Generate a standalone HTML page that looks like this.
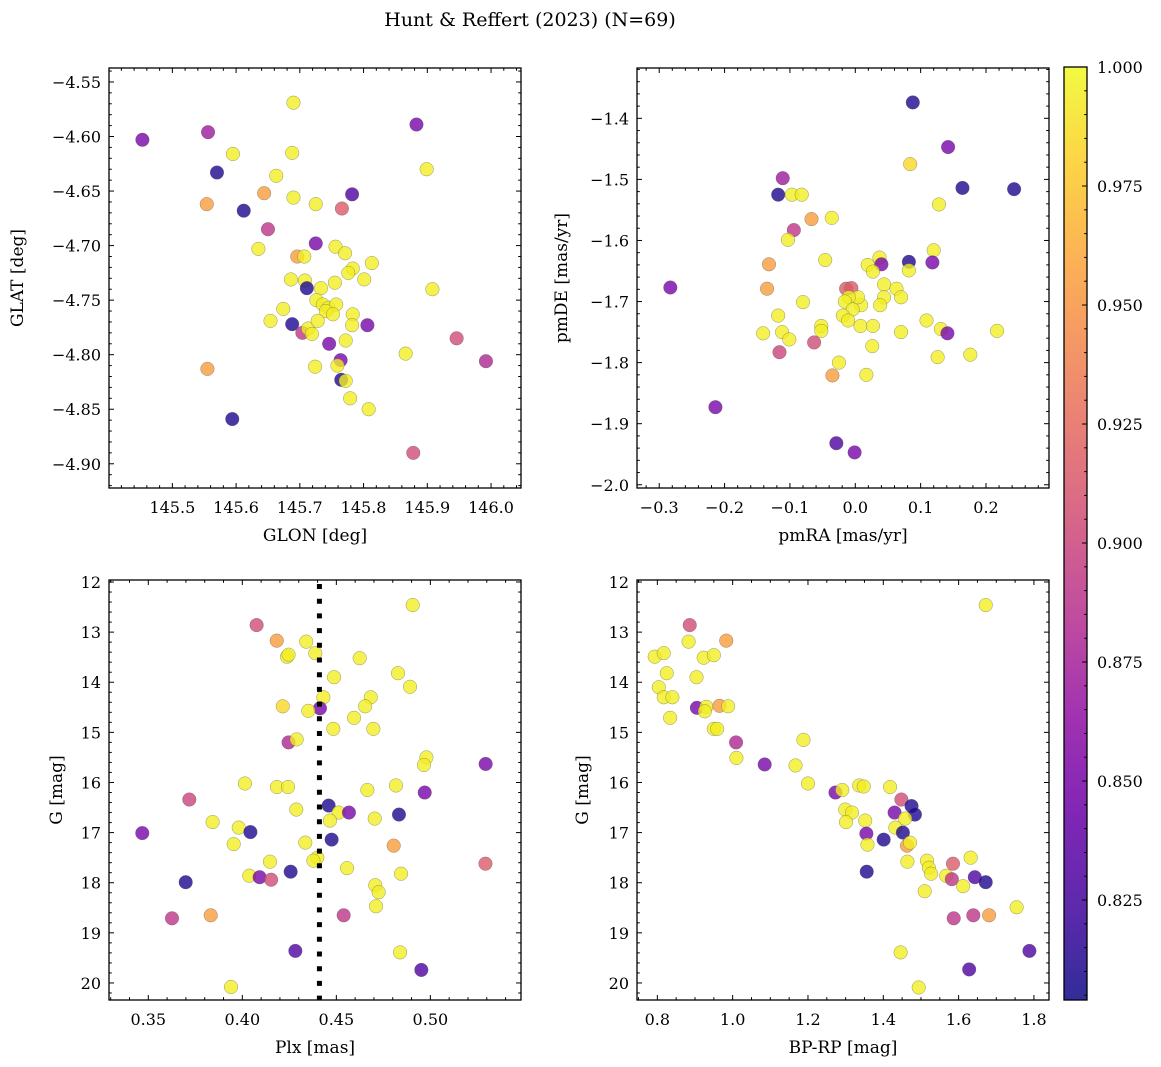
<!DOCTYPE html>
<html><head><meta charset="utf-8"><style>
html,body{margin:0;padding:0;background:#fff;}
svg{display:block;font-family:"DejaVu Serif","Liberation Serif",serif;}
</style></head><body>
<svg id="chart" width="1161" height="1067" viewBox="0 0 1161 1067" xmlns="http://www.w3.org/2000/svg">
<text x="530" y="26" font-size="19" text-anchor="middle">Hunt &amp; Reffert (2023) (N=69)</text>
</svg>
<script>
// ---- data ----
const p1Glon=[145.453,145.556,145.690,145.883,145.595,145.688,145.899,145.570,145.663,145.644,145.690,145.725,145.782,145.766,145.554,145.612,145.650,145.725,145.635,145.756,145.771,145.696,145.707,145.783,145.776,145.813,145.801,145.686,145.708,145.711,145.733,145.755,145.908,145.726,145.736,145.745,145.757,145.741,145.752,145.674,145.654,145.688,145.783,145.782,145.806,145.704,145.713,145.719,145.728,145.772,145.746,145.946,145.866,145.992,145.764,145.759,145.724,145.555,145.765,145.772,145.779,145.808,145.594,145.878];
const p1Glat=[-4.603,-4.596,-4.569,-4.589,-4.616,-4.615,-4.630,-4.633,-4.636,-4.652,-4.656,-4.662,-4.653,-4.666,-4.662,-4.668,-4.685,-4.698,-4.703,-4.701,-4.707,-4.710,-4.710,-4.721,-4.725,-4.716,-4.731,-4.731,-4.732,-4.739,-4.739,-4.734,-4.740,-4.750,-4.754,-4.757,-4.754,-4.760,-4.763,-4.758,-4.769,-4.772,-4.763,-4.773,-4.773,-4.780,-4.776,-4.781,-4.769,-4.787,-4.790,-4.785,-4.799,-4.806,-4.805,-4.810,-4.811,-4.813,-4.823,-4.824,-4.840,-4.850,-4.859,-4.890];
const p1Prob=[0.85,0.87,0.995,0.85,0.995,0.995,0.995,0.81,0.995,0.955,0.995,0.995,0.83,0.915,0.955,0.81,0.89,0.85,0.995,0.995,0.995,0.955,0.995,0.995,0.995,0.995,0.995,0.995,0.995,0.81,0.995,0.995,0.995,0.995,0.995,0.995,0.995,0.995,0.995,0.995,0.995,0.81,0.995,0.995,0.85,0.89,0.995,0.995,0.995,0.995,0.85,0.905,0.995,0.88,0.85,0.995,0.995,0.955,0.81,0.995,0.995,0.995,0.81,0.905];

const p2PmRA=[0.088,0.142,0.084,-0.111,0.164,0.243,-0.118,-0.097,-0.082,0.128,-0.067,-0.036,-0.094,-0.103,0.120,-0.046,-0.132,0.037,0.040,0.019,0.027,0.082,0.082,0.118,-0.283,-0.135,-0.014,-0.006,0.044,0.063,0.070,0.044,0.038,0.009,0.004,-0.010,-0.016,-0.004,-0.080,-0.019,-0.011,0.008,0.027,0.109,0.131,0.141,0.070,0.217,-0.118,-0.141,-0.112,-0.101,-0.052,-0.052,-0.063,-0.116,0.026,0.126,0.176,-0.025,-0.035,0.017,-0.214,-0.029,-0.001];
const p2PmDE=[-1.374,-1.447,-1.475,-1.498,-1.514,-1.516,-1.525,-1.525,-1.525,-1.541,-1.565,-1.563,-1.583,-1.599,-1.616,-1.632,-1.639,-1.628,-1.639,-1.640,-1.651,-1.635,-1.649,-1.636,-1.677,-1.679,-1.679,-1.678,-1.672,-1.679,-1.693,-1.693,-1.706,-1.706,-1.693,-1.693,-1.700,-1.713,-1.701,-1.723,-1.731,-1.740,-1.740,-1.731,-1.745,-1.752,-1.750,-1.748,-1.723,-1.752,-1.750,-1.762,-1.740,-1.748,-1.767,-1.783,-1.773,-1.791,-1.787,-1.800,-1.821,-1.820,-1.873,-1.932,-1.947];
const p2Prob=[0.81,0.85,0.985,0.87,0.81,0.81,0.81,0.995,0.995,0.995,0.955,0.995,0.89,0.995,0.995,0.995,0.955,0.995,0.85,0.995,0.995,0.81,0.995,0.85,0.85,0.955,0.915,0.915,0.995,0.995,0.995,0.995,0.995,0.995,0.995,0.995,0.995,0.995,0.995,0.995,0.995,0.995,0.995,0.995,0.995,0.85,0.995,0.995,0.995,0.995,0.995,0.995,0.995,0.995,0.905,0.9,0.995,0.995,0.995,0.995,0.955,0.995,0.85,0.83,0.85];

const p3Plx=[0.4906,0.4076,0.4183,0.4340,0.4388,0.4238,0.4246,0.4624,0.4828,0.4488,0.4892,0.4431,0.4683,0.4653,0.4215,0.4413,0.4351,0.4594,0.4484,0.4697,0.4246,0.4289,0.4979,0.4966,0.5294,0.4014,0.4184,0.4243,0.4665,0.4817,0.4970,0.3718,0.4459,0.4512,0.4567,0.4287,0.4833,0.4704,0.4466,0.3842,0.3468,0.3981,0.4043,0.3954,0.4335,0.4475,0.4805,0.4399,0.4378,0.4147,0.4557,0.5293,0.4844,0.4257,0.4037,0.4092,0.4153,0.3699,0.4707,0.4725,0.4711,0.3626,0.3832,0.4539,0.4282,0.4839,0.4952,0.3940];
const p3G=[12.46,12.86,13.17,13.19,13.42,13.49,13.45,13.52,13.82,13.90,14.09,14.30,14.30,14.48,14.48,14.52,14.57,14.71,14.93,14.93,15.20,15.14,15.50,15.65,15.63,16.02,16.09,16.09,16.15,16.06,16.20,16.34,16.46,16.60,16.60,16.54,16.64,16.72,16.76,16.79,17.01,16.90,16.99,17.23,17.20,17.14,17.26,17.50,17.56,17.58,17.71,17.62,17.82,17.78,17.86,17.89,17.94,17.99,18.05,18.19,18.47,18.71,18.65,18.65,19.36,19.39,19.74,20.08];
const p3Prob=[0.995,0.905,0.955,0.995,0.995,0.995,0.995,0.995,0.995,0.995,0.995,0.995,0.995,0.995,0.985,0.85,0.995,0.995,0.995,0.995,0.88,0.995,0.995,0.995,0.85,0.995,0.995,0.995,0.995,0.995,0.85,0.9,0.81,0.995,0.85,0.995,0.81,0.995,0.995,0.995,0.85,0.995,0.81,0.995,0.995,0.81,0.955,0.995,0.995,0.995,0.995,0.915,0.995,0.81,0.995,0.85,0.905,0.81,0.995,0.995,0.995,0.89,0.955,0.89,0.83,0.995,0.83,0.995];

const p4BpRp=[1.672,0.886,0.983,0.883,0.793,0.817,0.923,0.950,0.825,0.904,0.804,0.817,0.840,0.905,0.930,0.926,0.965,0.988,0.834,0.950,0.959,1.009,1.188,1.010,1.085,1.167,1.200,1.273,1.291,1.336,1.348,1.418,1.448,1.475,1.484,1.430,1.458,1.299,1.317,1.301,1.352,1.432,1.452,1.355,1.401,1.358,1.463,1.471,1.464,1.356,1.516,1.521,1.527,1.567,1.585,1.582,1.632,1.643,1.672,1.612,1.510,1.754,1.587,1.639,1.681,1.446,1.788,1.628,1.494];
const p4G=[12.46,12.86,13.17,13.19,13.49,13.42,13.51,13.46,13.82,13.90,14.10,14.30,14.30,14.51,14.49,14.58,14.47,14.48,14.71,14.93,14.93,15.20,15.15,15.51,15.64,15.66,16.02,16.20,16.15,16.06,16.08,16.09,16.34,16.47,16.64,16.60,16.72,16.54,16.60,16.79,16.76,16.90,17.00,17.02,17.14,17.24,17.26,17.20,17.58,17.78,17.56,17.70,17.82,17.86,17.62,17.93,17.50,17.89,17.99,18.07,18.17,18.49,18.71,18.65,18.65,19.39,19.36,19.73,20.09];
const p4Prob=[0.995,0.905,0.955,0.995,0.995,0.995,0.995,0.995,0.995,0.995,0.995,0.995,0.995,0.85,0.995,0.995,0.955,0.995,0.995,0.995,0.995,0.88,0.995,0.995,0.85,0.995,0.995,0.85,0.995,0.995,0.995,0.995,0.905,0.81,0.81,0.85,0.995,0.995,0.995,0.995,0.995,0.995,0.81,0.85,0.81,0.995,0.955,0.995,0.995,0.81,0.995,0.995,0.995,0.995,0.915,0.89,0.995,0.83,0.81,0.995,0.995,0.995,0.89,0.89,0.955,0.995,0.83,0.83,0.995];

const plxLine=[0.441];
const cbTicks=[0.825,0.850,0.875,0.900,0.925,0.950,0.975,1.000];

// ---- rendering ----
const NS="http://www.w3.org/2000/svg";
const svg=document.getElementById('chart');
function mk(tag,attrs,parent){const e=document.createElementNS(NS,tag);for(const k in attrs)e.setAttribute(k,attrs[k]);(parent||svg).appendChild(e);return e;}
const VMIN=0.804,VMAX=1.0;
const plasma=[[13,8,135],[65,4,157],[106,0,168],[143,13,164],[177,42,144],[204,71,120],[225,100,98],[242,132,75],[252,166,54],[252,206,37],[240,249,33]];
function cmap(v){let t=(v-VMIN)/(VMAX-VMIN);t=Math.max(0,Math.min(1,t))*10;const i=Math.min(9,Math.floor(t)),f=t-i;const a=plasma[i],b=plasma[i+1];return 'rgb('+a.map((c,k)=>Math.round(c+(b[k]-c)*f)).join(',')+')';}
function fmt(v,d){let s=v.toFixed(d);return s.replace('-','\u2212');}

function panel(o){
  const g=mk('g',{});
  
  
  const sx=v=>o.L+(v-o.x0)/(o.x1-o.x0)*(o.R-o.L);
  const sy=v=>o.T+(v-o.y0)/(o.y1-o.y0)*(o.B-o.T);
  // points
  const pg=mk('g',{},g);
  
  
  for(let i=0;i<o.xs.length;i++){
    const c=mk('circle',{cx:sx(o.xs[i]),cy:sy(o.ys[i]),r:6.8,fill:cmap(o.ps[i]),'fill-opacity':0.8,stroke:'#555','stroke-opacity':0.6,'stroke-width':0.5},pg);
    
    
  }
  if(o.vline){for(const v of o.vline){const l=mk('line',{x1:sx(v),x2:sx(v),y1:o.T+4,y2:o.B,stroke:'#000','stroke-width':5,'stroke-dasharray':'5 9.7'},g);
    
    }}
  // frame
  const fr=mk('rect',{x:o.L,y:o.T,width:o.R-o.L,height:o.B-o.T,fill:'none',stroke:'#000','stroke-width':1.3},g);
  
  
  // ticks
  const tg=mk('g',{stroke:'#000','stroke-width':1},g);
  const xl=Math.min(o.x0,o.x1),xh=Math.max(o.x0,o.x1),yl=Math.min(o.y0,o.y1),yh=Math.max(o.y0,o.y1);
  for(let k=Math.ceil(xl/o.xmin-1e-6);k*o.xmin<=xh+1e-9;k++){const v=k*o.xmin,x=sx(v);const maj=Math.abs(v/o.xmaj-Math.round(v/o.xmaj))<1e-6;const len=maj?5:2.8;
    mk('line',{x1:x,x2:x,y1:o.B,y2:o.B-len},tg);mk('line',{x1:x,x2:x,y1:o.T,y2:o.T+len},tg);
    if(maj){const t=mk('text',{x:x,y:o.B+25,'font-size':16,'text-anchor':'middle',stroke:'none'},g);t.textContent=fmt(v,o.xd);
      }}
  for(let k=Math.ceil(yl/o.ymin-1e-6);k*o.ymin<=yh+1e-9;k++){const v=k*o.ymin,y=sy(v);const maj=Math.abs(v/o.ymaj-Math.round(v/o.ymaj))<1e-6;const len=maj?5:2.8;
    mk('line',{x1:o.L,x2:o.L+len,y1:y,y2:y},tg);mk('line',{x1:o.R,x2:o.R-len,y1:y,y2:y},tg);
    if(maj){const t=mk('text',{x:o.L-8,y:y+6,'font-size':16,'text-anchor':'end',stroke:'none'},g);t.textContent=fmt(v,o.yd);
      }}
  const xt=mk('text',{x:(o.L+o.R)/2,y:o.B+53,'font-size':17,'text-anchor':'middle'},g);xt.textContent=o.xlab;
  
  const yt=mk('text',{x:0,y:0,'font-size':17,'text-anchor':'middle',transform:'translate('+o.ylx+','+((o.T+o.B)/2)+') rotate(-90)'},g);yt.textContent=o.ylab;
  
}
panel({name:'glon-glat-panel',L:109,R:521,T:68,B:488,x0:145.4006,x1:146.047,y0:-4.5372,y1:-4.9222,xs:p1Glon,ys:p1Glat,ps:p1Prob,xmaj:0.1,xmin:0.02,ymaj:0.05,ymin:0.01,xd:1,yd:2,xlab:'GLON [deg]',ylab:'GLAT [deg]',ylx:23});
panel({name:'proper-motion-panel',L:637,R:1049,T:68,B:488,x0:-0.334,x1:0.2964,y0:-1.3176,y1:-2.0053,xs:p2PmRA,ys:p2PmDE,ps:p2Prob,xmaj:0.1,xmin:0.02,ymaj:0.1,ymin:0.02,xd:1,yd:1,xlab:'pmRA [mas/yr]',ylab:'pmDE [mas/yr]',ylx:567});
panel({name:'parallax-magnitude-panel',L:109,R:521,T:580,B:1000,x0:0.3291,x1:0.5482,y0:11.96,y1:20.34,xs:p3Plx,ys:p3G,ps:p3Prob,xmaj:0.05,xmin:0.01,ymaj:1,ymin:0.2,xd:2,yd:0,xlab:'Plx [mas]',ylab:'G [mag]',ylx:62,vline:plxLine});
panel({name:'color-magnitude-panel',L:637,R:1049,T:580,B:1000,x0:0.746,x1:1.840,y0:11.96,y1:20.34,xs:p4BpRp,ys:p4G,ps:p4Prob,xmaj:0.2,xmin:0.05,ymaj:1,ymin:0.2,xd:1,yd:0,xlab:'BP-RP [mag]',ylab:'G [mag]',ylx:588});

// colorbar
(function(){
  const L=1064,R=1087,T=67,B=1000;
  const g=mk('g',{});
  
  
  const defs=mk('defs',{},g);
  const lg=mk('linearGradient',{id:'cbg',x1:0,y1:1,x2:0,y2:0},defs);
  for(let i=0;i<=20;i++){mk('stop',{offset:(i/20),'stop-color':cmap(VMIN+(VMAX-VMIN)*i/20),'stop-opacity':0.85},lg);}
  mk('rect',{x:L,y:T,width:R-L,height:B-T,fill:'url(#cbg)',stroke:'#000','stroke-width':1.3},g);
  const sy=v=>B-(v-VMIN)/(VMAX-VMIN)*(B-T);
  for(let v=0.805;v<=1.0001;v+=0.005){const y=sy(v);const maj=cbTicks.some(t=>Math.abs(t-v)<1e-6);
    mk('line',{x1:R,x2:R-(maj?5:2.8),y1:y,y2:y,stroke:'#000','stroke-width':1},g);}
  for(const t of cbTicks){const tx=mk('text',{x:R+10,y:sy(t)+6,'font-size':16},g);tx.textContent=t.toFixed(3);
    }
})();
</script>
</body></html>
